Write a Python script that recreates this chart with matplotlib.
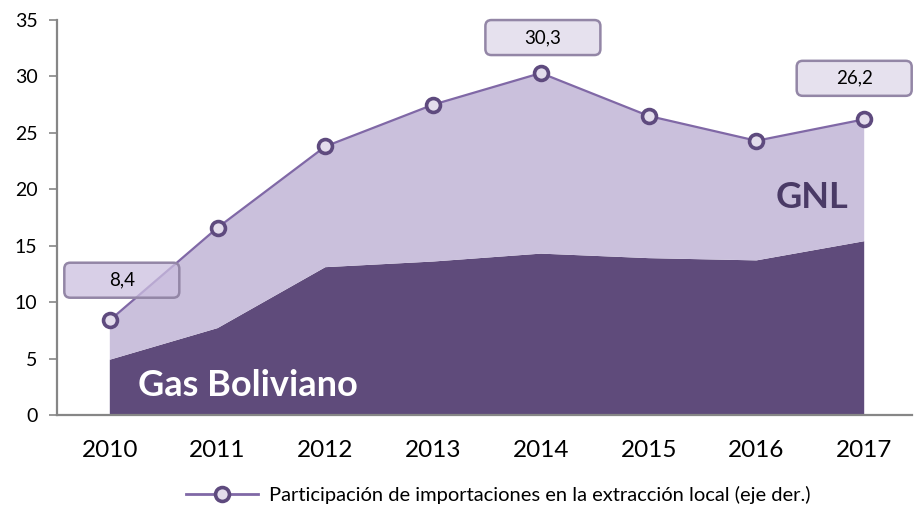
import matplotlib
matplotlib.use("Agg")
import matplotlib.pyplot as plt
import matplotlib.transforms as mtransforms
from matplotlib.patches import FancyBboxPatch
from matplotlib.lines import Line2D
import numpy as np

plt.rcParams['font.family'] = ['Lato', 'DejaVu Sans']

# data
years = ['2010', '2011', '2012', '2013', '2014', '2015', '2016', '2017']
gas_boliviano = [4.9, 7.7, 13.1, 13.6, 14.3, 13.9, 13.7, 15.4]
participacion = [8.4, 16.6, 23.8, 27.5, 30.3, 26.5, 24.3, 26.2]
gnl = [p - g for p, g in zip(participacion, gas_boliviano)]
labelled = {0: '8,4', 4: '30,3', 7: '26,2'}

dark = '#5f4b7b'
light = '#cac0dc'
line_col = '#8068a6'
edge_col = '#5e4a7e'

fig = plt.figure(figsize=(9.15, 5.13), dpi=100)
ax = fig.add_axes([0.0623, 0.191, 0.934, 0.770])

x = np.arange(len(years))
ax.stackplot(x, gas_boliviano, gnl, colors=[dark, light], linewidth=0)

ax2 = ax.twinx()
ax2.plot(x, participacion, color=line_col, lw=1.6, marker='o', ms=10,
         mfc='#e3dcec', mec=edge_col, mew=2.6, zorder=5)

ax.set_xlim(-0.49, 7.44)
ax.set_ylim(0, 35)
ax2.set_ylim(0, 35)
ax2.axis('off')

ax.set_yticks(range(0, 36, 5))
ax.set_xticks(x)
ax.set_xticklabels(years)
ax.tick_params(axis='y', length=6, width=1.2, color='#868686', labelsize=14, pad=8)
ax.tick_params(axis='x', length=0, labelsize=17.5, pad=18)
for s in ['top', 'right']:
    ax.spines[s].set_visible(False)
for s in ['left', 'bottom']:
    ax.spines[s].set_color('#868686')
    ax.spines[s].set_linewidth(1.6)

ax.text(1.28, 2.6, 'Gas Boliviano', color='white', fontsize=26,
        fontweight='bold', ha='center', va='center')
ax.text(6.52, 19.3, 'GNL', color='#4a3a66', fontsize=26,
        fontweight='bold', ha='center', va='center')

# label boxes, offsets in inches from the data point
offsets = {0: (0.12, 0.40), 4: (0.02, 0.355), 7: (-0.10, 0.41)}
fills = {0: (0.80, 0.75, 0.88, 0.75), 4: '#e6e1ee', 7: '#e6e1ee'}
for i, txt in labelled.items():
    dx, dy = offsets[i]
    w, h = 1.15, 0.35
    tr = fig.dpi_scale_trans + mtransforms.ScaledTranslation(
        i, participacion[i], ax2.transData)
    box = FancyBboxPatch((dx - w / 2, dy - h / 2), w, h,
                         boxstyle='round,pad=0,rounding_size=0.06',
                         fc=fills[i], ec='#9386a6', lw=1.8,
                         transform=tr, clip_on=False, zorder=6)
    ax2.add_artist(box)
    ax2.annotate(txt, xy=(i, participacion[i]), xytext=(dx * 72, dy * 72),
                 textcoords='offset points', ha='center', va='center',
                 fontsize=13.5, zorder=7, annotation_clip=False)

handle = Line2D([], [], color=line_col, lw=2, marker='o', ms=10,
                mfc='#e3dcec', mec=edge_col, mew=2.6)
fig.legend([handle], ['Participación de importaciones en la extracción local (eje der.)'],
           loc='center', bbox_to_anchor=(498 / 915, 1 - 495 / 513),
           frameon=False, fontsize=14.5, handlelength=3.6, handletextpad=0.5)

fig.savefig('out.png', dpi=100)
